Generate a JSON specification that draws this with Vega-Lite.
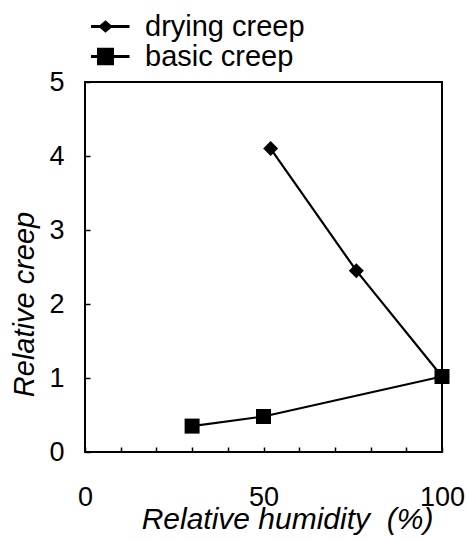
{
  "$schema": "https://vega.github.io/schema/vega-lite/v6.json",
  "width": 357,
  "height": 370,
  "autosize": {"type": "none"},
  "padding": {"left": 85, "top": 82, "right": 25, "bottom": 90},
  "background": "white",
  "config": {
    "font": "Liberation Sans",
    "view": {"stroke": "black", "strokeWidth": 2},
    "axis": {"grid": false, "domain": false, "labelFont": "Liberation Sans", "titleFont": "Liberation Sans"}
  },
  "data": {
    "values": [
      {"series": "drying creep", "rh": 52, "creep": 4.10},
      {"series": "drying creep", "rh": 76, "creep": 2.45},
      {"series": "drying creep", "rh": 100, "creep": 1.02},
      {"series": "basic creep", "rh": 30, "creep": 0.35},
      {"series": "basic creep", "rh": 50, "creep": 0.48},
      {"series": "basic creep", "rh": 100, "creep": 1.02}
    ]
  },
  "encoding": {
    "x": {
      "field": "rh", "type": "quantitative",
      "scale": {"domain": [0, 100], "nice": false, "zero": false},
      "axis": {
        "title": "Relative humidity\u00a0\u00a0(%)",
        "values": [0, 10, 20, 30, 40, 50, 60, 70, 80, 90, 100],
        "labelExpr": "datum.value % 50 === 0 ? datum.label : ''",
        "tickSize": -5, "tickColor": "black", "tickWidth": 1.5,
        "labelFontSize": 27, "labelColor": "black", "labelPadding": 37,
        "labelFlush": false,
        "titleFontSize": 30, "titleFontStyle": "italic", "titleFontWeight": "normal", "titleColor": "black",
        "titleX": 202, "titleY": 76, "titleBaseline": "alphabetic", "titleAlign": "center"
      }
    },
    "y": {
      "field": "creep", "type": "quantitative",
      "scale": {"domain": [0, 5], "nice": false},
      "axis": {
        "title": "Relative creep",
        "values": [0, 1, 2, 3, 4, 5],
        "tickSize": -5, "tickColor": "black", "tickWidth": 1.5,
        "labelFontSize": 27, "labelColor": "black", "labelPadding": 26,
        "labelFlush": false,
        "titleFontSize": 29, "titleFontStyle": "italic", "titleFontWeight": "normal", "titleColor": "black",
        "titleX": -52, "titleY": 222, "titleBaseline": "alphabetic", "titleAlign": "center", "titleAngle": -90
      }
    }
  },
  "layer": [
    {
      "mark": {"type": "line", "color": "black", "strokeWidth": 2.2},
      "encoding": {"detail": {"field": "series"}}
    },
    {
      "transform": [{"filter": "datum.series === 'drying creep'"}],
      "mark": {"type": "point", "shape": "diamond", "filled": true, "color": "black", "opacity": 1, "size": 225}
    },
    {
      "transform": [{"filter": "datum.series === 'basic creep'"}],
      "mark": {"type": "point", "shape": "square", "filled": true, "color": "black", "opacity": 1, "size": 225}
    },
    {
      "transform": [{"filter": "false"}],
      "mark": {"type": "point", "filled": true, "color": "black", "opacity": 1},
      "encoding": {
        "shape": {
          "field": "series", "type": "nominal",
          "scale": {
            "domain": ["drying creep", "basic creep"],
            "range": [
              "M-2,-0.12L-0.46,-0.12L0,-0.52L0.46,-0.12L2,-0.12L2,0.12L0.46,0.12L0,0.52L-0.46,0.12L-2,0.12Z",
              "M-2,-0.12L-0.71,-0.12L-0.71,-0.72L0.71,-0.72L0.71,-0.12L2,-0.12L2,0.12L0.71,0.12L0.71,0.72L-0.71,0.72L-0.71,0.12L-2,0.12Z"
            ]
          },
          "legend": {
            "title": null,
            "orient": "none",
            "legendX": 6,
            "legendY": -70,
            "symbolSize": 576,
            "symbolFillColor": "black",
            "symbolOpacity": 1,
            "labelFontSize": 29,
            "labelColor": "black",
            "labelOffset": 25,
            "clipHeight": 29,
            "rowPadding": -4,
            "padding": 0
          }
        }
      }
    }
  ]
}
